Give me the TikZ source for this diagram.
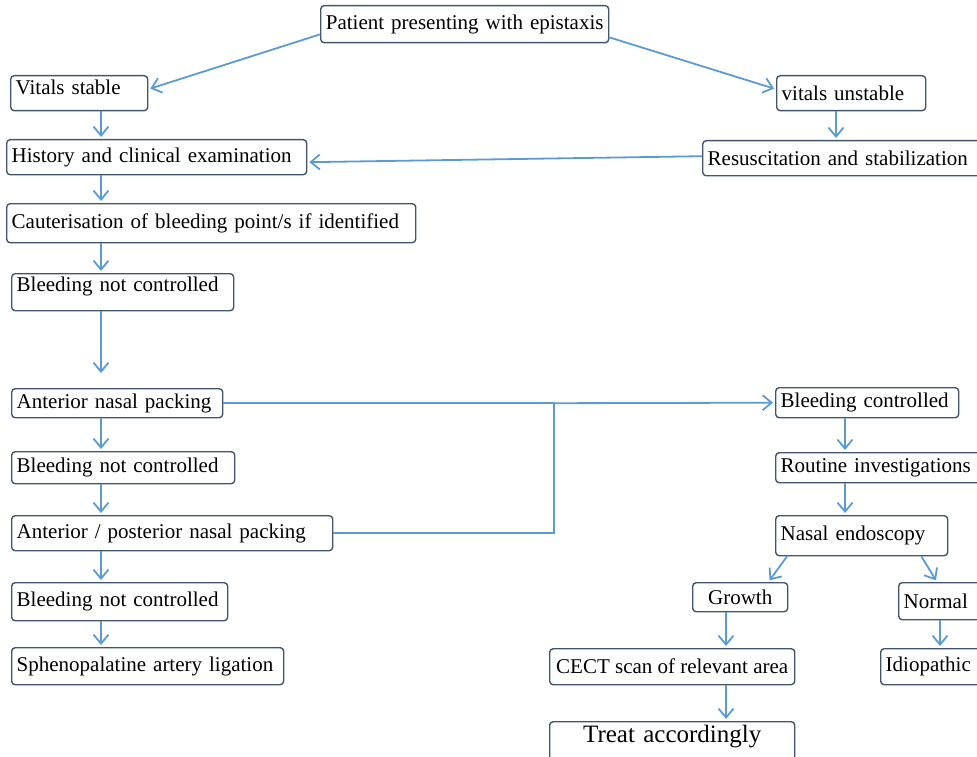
\documentclass[tikz,border=0pt]{standalone}
\usepackage{fontspec}
\setmainfont{Liberation Serif}
\usepackage{tikz}
\usetikzlibrary{arrows.meta}
\definecolor{arrblue}{HTML}{5B9BD5}
\definecolor{boxgrey}{HTML}{44546A}

\tikzset{
    fbox/.style={draw=boxgrey, line width=1.4pt, rounded corners=3.5pt, anchor=north west,
        inner xsep=5pt, inner ysep=1pt, align=left, font=\fontsize{21}{24}\selectfont},
    arr/.style={draw=arrblue, line width=1.8pt,
        -{Straight Barb[length=9pt,width=15pt,line width=1.8pt]}, shorten >=2pt},
    link/.style={draw=arrblue, line width=1.8pt}
}

\begin{document}
\begin{tikzpicture}[x=1pt,y=-1pt]
        \useasboundingbox (0,0) rectangle (977,757);
        \clip (0,0) rectangle (977,757);
        % top of the chart
        \node[fbox, text width=278pt, align=center, minimum height=37pt] (pat) at (320,5) {Patient presenting with epistaxis};
        \node[fbox, text width=127pt, text height=18pt, text depth=15pt] (vs) at (10,75) {Vitals stable};
        \node[fbox, text width=139pt, minimum height=35pt] (vu) at (776,75) {vitals unstable};
        \node[fbox, text width=290pt, minimum height=35pt] (hist) at (6,139) {History and clinical examination};
        \node[fbox, text width=280pt, minimum height=35pt] (resus) at (702,140) {Resuscitation and stabilization};
        % left column
        \node[fbox, text width=399pt, minimum height=39pt] (caut) at (6,203) {Cauterisation of bleeding point/s if identified};
        \node[fbox, text width=212pt, text height=17pt, text depth=18pt] (bnc1) at (11,273) {Bleeding not controlled};
        \node[fbox, text width=201pt, minimum height=29pt] (anp) at (11,388) {Anterior nasal packing};
        \node[fbox, text width=213pt, minimum height=32pt] (bnc2) at (11,451) {Bleeding not controlled};
        \node[fbox, text width=311pt, minimum height=35pt] (apnp) at (11,515) {Anterior / posterior nasal packing};
        \node[fbox, text width=206pt, minimum height=38pt] (bnc3) at (11,582) {Bleeding not controlled};
        \node[fbox, text width=262pt, minimum height=37pt] (spa) at (11,647) {Sphenopalatine artery ligation};
        % right column
        \node[fbox, text width=173pt, minimum height=30pt] (bc) at (775,387) {Bleeding controlled};
        \node[fbox, text width=205pt, minimum height=30pt] (ri) at (775,452) {Routine investigations};
        \node[fbox, text width=162pt, minimum height=40pt] (ne) at (775,515) {Nasal endoscopy};
        \node[fbox, text width=85pt, align=center, minimum height=29pt] (gr) at (692,582) {Growth};
        \node[fbox, text width=80pt, minimum height=37pt] (no) at (898,582) {Normal};
        \node[fbox, inner xsep=3pt, minimum width=245pt, minimum height=36pt] (cect) at (549,648) {CECT scan of relevant area};
        \node[fbox, text width=100pt, minimum height=36pt] (idio) at (880,648) {Idiopathic};
        \node[fbox, text width=235pt, align=center, text height=20pt, text depth=24pt, font=\fontsize{25}{28}\selectfont] (treat) at (549,721) {Treat accordingly};

        \coordinate (lc) at (101,0);
        \coordinate (uc) at (836,0);
        \coordinate (jn) at (554,0);
        \coordinate (rc) at (845,0);
        \coordinate (gc) at (726,0);
        \coordinate (nc) at (940,0);

        \draw[arr] ([yshift=9pt]pat.south west) -- ([yshift=4pt]vs.east);
        \draw[arr] ([yshift=6pt]pat.south east) -- ([yshift=4pt]vu.west);
        \draw[arr] (vu.south -| uc) -- (resus.north -| uc);
        \draw[arr] ([yshift=2pt]resus.west) -- ([yshift=-5pt]hist.east);
        \draw[arr] (vs.south -| lc) -- (hist.north -| lc);
        \draw[arr] (hist.south -| lc) -- (caut.north -| lc);
        \draw[arr] (caut.south -| lc) -- (bnc1.north -| lc);
        \draw[arr, shorten >=15pt] (bnc1.south -| lc) -- (anp.north -| lc);
        \draw[arr] (anp.south -| lc) -- (bnc2.north -| lc);
        \draw[arr] (bnc2.south -| lc) -- (apnp.north -| lc);
        \draw[arr] (apnp.south -| lc) -- (bnc3.north -| lc);
        \draw[arr] (bnc3.south -| lc) -- (spa.north -| lc);

        % packing leads to control
        \draw[link] (anp.east) -- (anp.east -| jn);
        \draw[link] (apnp.east) -- (apnp.east -| jn) -- (anp.east -| jn);
        \draw[arr] (anp.east -| jn) -- (bc.west);

        \draw[arr] (bc.south -| rc) -- (ri.north -| rc);
        \draw[arr] (ri.south -| rc) -- (ne.north -| rc);
        \draw[arr] ([xshift=12pt]ne.south west) -- ([xshift=-20pt]gr.north east);
        \draw[arr] ([xshift=-27pt]ne.south east) -- ([xshift=39pt]no.north west);
        \draw[arr] (gr.south -| gc) -- (cect.north -| gc);
        \draw[arr] (cect.south -| gc) -- (treat.north -| gc);
        \draw[arr] (no.south -| nc) -- (idio.north -| nc);
    \end{tikzpicture}
\end{document}
